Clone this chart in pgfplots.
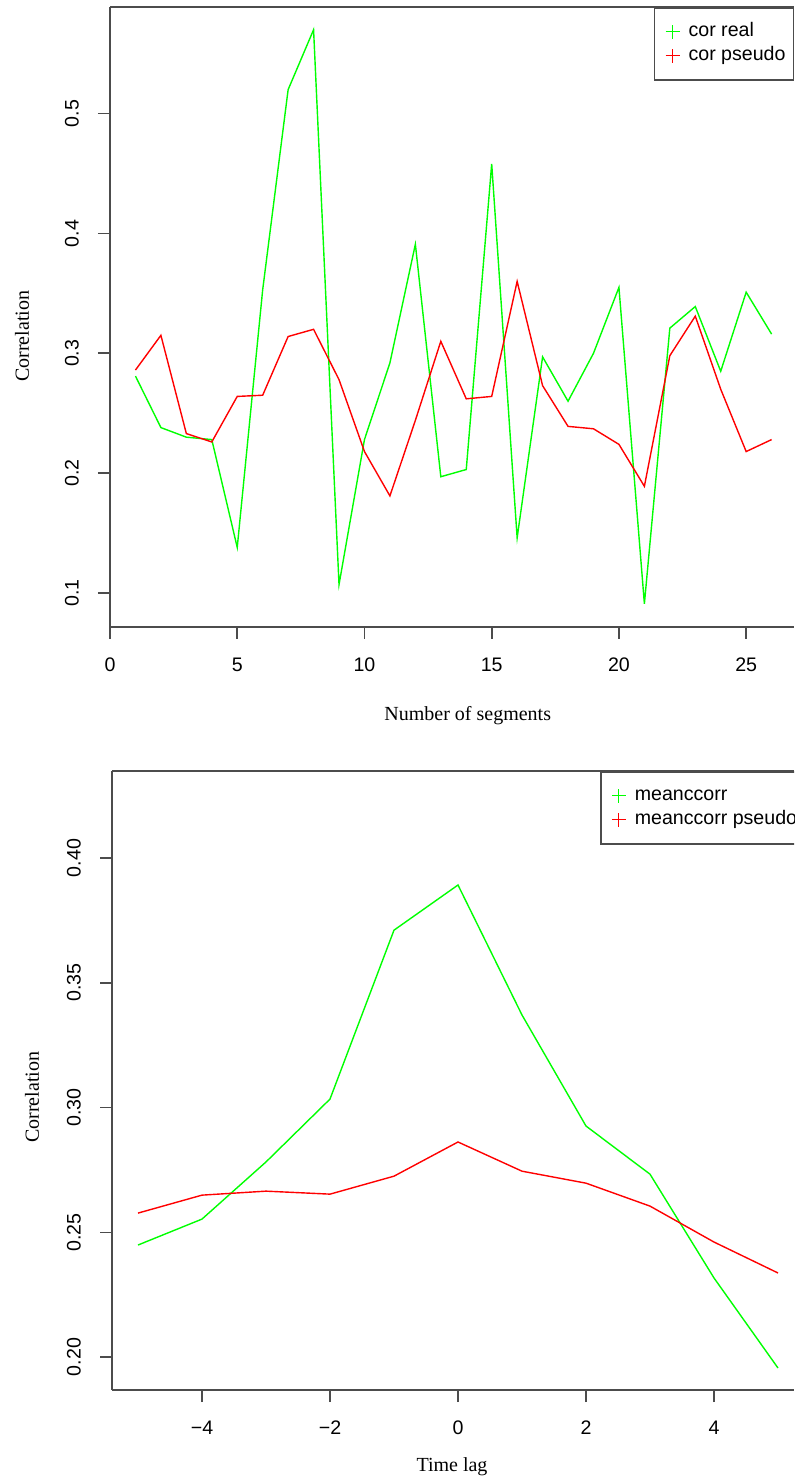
\documentclass[border=0pt]{standalone}
\usepackage{fontspec}
\setmainfont{Liberation Serif}
\setsansfont{Liberation Sans}
\usepackage{pgfplots}
\pgfplotsset{compat=1.18}

\definecolor{rgreen}{RGB}{0,255,0}
\definecolor{rred}{RGB}{255,0,0}
\definecolor{axgray}{gray}{0.3}

\pgfplotsset{
  rplot/.style={
    scale only axis,
    axis lines=left,
    axis line style={axgray, line width=0.8pt, -},
    tick align=outside,
    major tick length=6pt,
    tick style={axgray, line width=0.8pt},
    tick label style={font=\sffamily\fontsize{9.8}{11}\selectfont},
    /pgf/number format/assume math mode=true,
    xticklabel shift=6pt,
    yticklabel shift=6pt,
    yticklabel style={rotate=90, anchor=south},
    label style={font=\fontsize{10.6}{12}\selectfont},
    legend style={draw=axgray, line width=0.8pt, fill=white,
      font=\sffamily\fontsize{9.8}{11}\selectfont,
      inner xsep=4pt, inner ysep=7pt, row sep=2pt, column sep=0pt,
      nodes={inner sep=0pt, text height=7.5pt, text depth=2.5pt}},
    legend cell align=left,
  },
  % R style legend key: a plus sign in the series colour
  rkey/.style={legend image code/.code={
      \path[draw=none, fill=none] (0pt,-3.5pt) rectangle (13pt,3.5pt);
      \draw[#1, line width=0.6pt] (1.5pt,0pt) -- (8.5pt,0pt) (5pt,-3.5pt) -- (5pt,3.5pt);
  }},
}

\begin{document}
\begin{tikzpicture}
\useasboundingbox (0,0) rectangle (397pt,740.5pt);
\clip (0,0) rectangle (397pt,740.5pt);

% top: correlation per number of segments
\begin{axis}[rplot,
  at={(55pt,427pt)}, anchor=south west,
  width=342pt, height=310pt,
  xmin=0, xmax=26.88, ymin=0.0716, ymax=0.589,
  xtick={0,5,10,15,20,25},
  ytick={0.1,0.2,0.3,0.4,0.5},
  yticklabels={0.1,0.2,0.3,0.4,0.5},
  xlabel={Number of segments},
  ylabel={Correlation},
  every axis x label/.style={at={(rel axis cs:0.523,-0.1435)}, anchor=center},
  every axis y label/.style={at={(rel axis cs:-0.1287,0.469)}, rotate=90, anchor=center},
  legend style={at={(rel axis cs:0.795,1)}, anchor=north west},
]
\addplot[rgreen, line width=0.7pt, mark=none, rkey=rgreen] coordinates {
  (1,0.281) (2,0.238) (3,0.230) (4,0.228) (5,0.138) (6,0.353)
  (7,0.520) (8,0.570) (9,0.107) (10,0.228) (11,0.292) (12,0.391)
  (13,0.197) (14,0.203) (15,0.458) (16,0.146) (17,0.297) (18,0.260)
  (19,0.300) (20,0.355) (21,0.091) (22,0.321) (23,0.339) (24,0.285)
  (25,0.351) (26,0.316)
};
\addplot[rred, line width=0.7pt, mark=none, rkey=rred] coordinates {
  (1,0.286) (2,0.315) (3,0.233) (4,0.226) (5,0.264) (6,0.265)
  (7,0.314) (8,0.320) (9,0.278) (10,0.218) (11,0.181) (12,0.244)
  (13,0.310) (14,0.262) (15,0.264) (16,0.360) (17,0.273) (18,0.239)
  (19,0.237) (20,0.224) (21,0.189) (22,0.298) (23,0.331) (24,0.270)
  (25,0.218) (26,0.228)
};
\legend{cor real, cor pseudo}
\draw[axgray, line width=0.8pt] (rel axis cs:0,1) -- (rel axis cs:1,1);
\end{axis}

% bottom: mean correlation per time lag
\begin{axis}[rplot,
  at={(56pt,45.5pt)}, anchor=south west,
  width=341pt, height=309.5pt,
  xmin=-5.406, xmax=5.25, ymin=0.1868, ymax=0.4349,
  xtick={-4,-2,0,2,4},
  xticklabels={−4,−2,0,2,4},
  ytick={0.20,0.25,0.30,0.35,0.40},
  yticklabels={0.20,0.25,0.30,0.35,0.40},
  xlabel={Time lag},
  ylabel={Correlation},
  every axis x label/.style={at={(rel axis cs:0.4985,-0.1244)}, anchor=center},
  every axis y label/.style={at={(rel axis cs:-0.1173,0.473)}, rotate=90, anchor=center},
  legend style={at={(rel axis cs:0.7155,1)}, anchor=north west},
]
\addplot[rgreen, line width=0.7pt, mark=none, rkey=rgreen] coordinates {
  (-5,0.2449) (-4,0.2553) (-3,0.2782) (-2,0.3034) (-1,0.3711) (0,0.3892)
  (1,0.3371) (2,0.2926) (3,0.2733) (4,0.2317) (5,0.1956)
};
\addplot[rred, line width=0.7pt, mark=none, rkey=rred] coordinates {
  (-5,0.2577) (-4,0.2649) (-3,0.2665) (-2,0.2653) (-1,0.2725) (0,0.2862)
  (1,0.2745) (2,0.2697) (3,0.2605) (4,0.2461) (5,0.2337)
};
\legend{meanccorr, meanccorr pseudo}
\draw[axgray, line width=0.8pt] (rel axis cs:0,1) -- (rel axis cs:1,1);
\end{axis}
\end{tikzpicture}
\end{document}
